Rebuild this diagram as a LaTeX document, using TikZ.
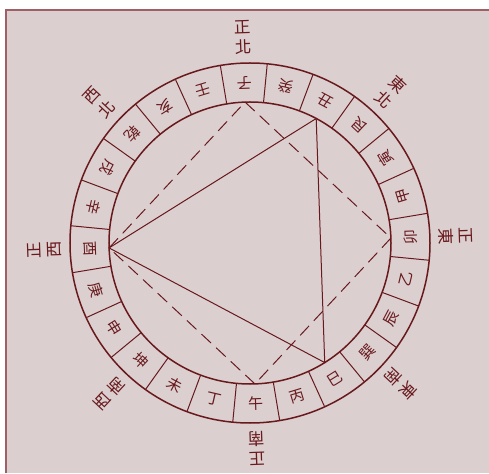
\documentclass[tikz,border=0pt]{standalone}
\usepackage{fontspec}
\newfontfamily\cjk{Noto Sans CJK TC}
\definecolor{bg}{RGB}{219,207,208}
\definecolor{ink}{RGB}{105,25,28}
\definecolor{framecol}{RGB}{160,95,100}
\tikzset{
  ringline/.style={ink, line width=1.5pt},
  divline/.style={ink, line width=1pt},
  triline/.style={ink, line width=1pt},
  dashline/.style={ink, line width=1pt, dash pattern=on 13pt off 7pt},
  ringchar/.style={text=ink, font=\cjk\fontsize{15}{15}\selectfont, inner sep=0pt},
  dirchar/.style={text=ink, font=\cjk\fontsize{16.5}{16.5}\selectfont, inner sep=0pt}
}
\begin{document}
\begin{tikzpicture}[x=1pt,y=1pt]
\useasboundingbox (-250,-230) rectangle (239,243);
\fill[white] (-250,-230) rectangle (239,243);
\fill[bg] (-244,-230) rectangle (239,233);
\draw[framecol, line width=1.6pt] (-244,-230) -- (-244,233) -- (239,233);

% circles
\draw[ringline] (0,0) circle (180);
\draw[ringline] (0,0) circle (141);

% dividers
\foreach \i in {0,...,23} {
  \pgfmathsetmacro\a{92-7.5-15*\i}
  \draw[divline] (\a:141) -- (\a:180);
}

% 24 mountains
\foreach \c [count=\i from 0] in {子,癸,丑,艮,寅,甲,卯,乙,辰,巽,巳,丙,午,丁,未,坤,申,庚,酉,辛,戌,乾,亥,壬} {
  \pgfmathsetmacro\a{92-15*\i}
  \pgfmathsetmacro\r{\a+90}
  \node[ringchar, rotate=\r] (m\i) at (\a:160.5) {\c};
}

% direction labels
\foreach \f/\s/\c [count=\k] in {正/北/0, 東/北/45, 正/東/90, 東/南/135, 正/南/180, 西/南/225, 正/西/270, 西/北/315} {
  \pgfmathsetmacro\a{92-\c}
  \pgfmathsetmacro\r{\a-90}
  \node[dirchar, rotate=\r] (da\k) at (\a:216) {\f};
  \node[dirchar, rotate=\r] (db\k) at (\a:196) {\s};
}

% vertices on inner circle
\coordinate (vzi) at (92:141);
\coordinate (vmao) at (2:141);
\coordinate (vwu) at (-88:141);
\coordinate (vyou) at (-178:141);
\coordinate (vchou) at (62:141);
\coordinate (vsi) at (-58:141);

% solid triangle
\draw[triline] (vyou) -- (vchou) -- (vsi) -- cycle;

% dashed square
\draw[dashline] (vzi) -- (vmao);
\draw[dashline] (vmao) -- (vwu);
\draw[dashline] (vwu) -- (vyou);
\draw[dashline] (vyou) -- (vzi);
\end{tikzpicture}
\end{document}
